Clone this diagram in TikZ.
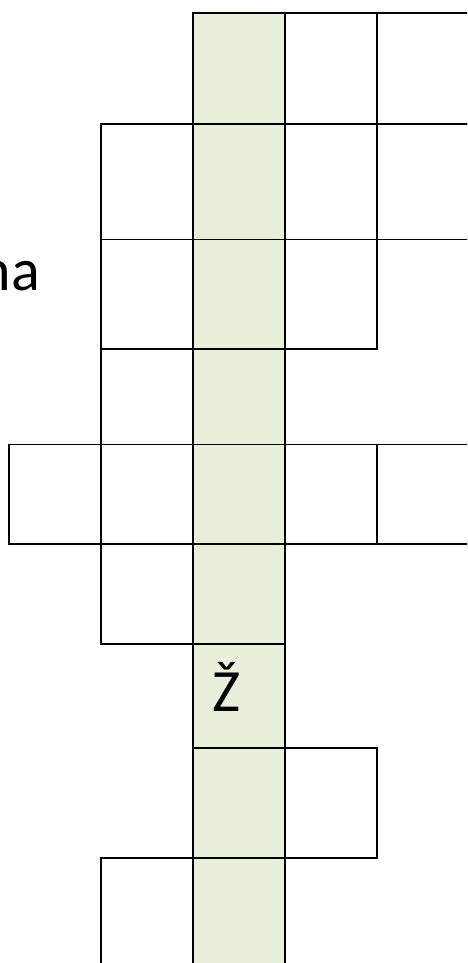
\documentclass[tikz,border=0pt]{standalone}
\usepackage{fontspec}
\setmainfont{Carlito}
\definecolor{tajgreen}{HTML}{E8F0DC}
\tikzset{
  cell/.style={draw=black, line width=1.9pt, rectangle, inner sep=0pt, outer sep=0pt, anchor=north west, minimum width=92pt},
  gcell/.style={cell, fill=tajgreen},
  bigtxt/.style={font=\fontsize{60}{72}\selectfont, inner sep=0pt, outer sep=0pt}
}
\begin{document}
\begin{tikzpicture}[x=1pt,y=1pt]
\useasboundingbox (0,0) rectangle (467,-963);
\clip (0,0) rectangle (467,-963);
% row 1
\node[gcell, minimum height=111pt] (g1) at (193,-13) {};
\node[cell, minimum height=111pt] (r1a) at (285,-13) {};
\node[cell, minimum height=111pt] (r1b) at (377,-13) {};
% row 2
\node[cell, minimum height=115.5pt] (l2) at (101,-124) {};
\node[gcell, minimum height=115.5pt] (g2) at (193,-124) {};
\node[cell, minimum height=115.5pt] (r2a) at (285,-124) {};
\node[cell, minimum height=115.5pt] (r2b) at (377,-124) {};
% row 3
\node[cell, minimum height=109.5pt] (l3) at (101,-239.5) {};
\node[gcell, minimum height=109.5pt] (g3) at (193,-239.5) {};
\node[cell, minimum height=109.5pt] (r3a) at (285,-239.5) {};
% row 4
\node[cell, minimum height=95.5pt] (l4) at (101,-349) {};
\node[gcell, minimum height=95.5pt] (g4) at (193,-349) {};
% row 5
\node[cell, minimum height=99.5pt] (l5b) at (9,-444.5) {};
\node[cell, minimum height=99.5pt] (l5a) at (101,-444.5) {};
\node[gcell, minimum height=99.5pt] (g5) at (193,-444.5) {};
\node[cell, minimum height=99.5pt] (r5a) at (285,-444.5) {};
\node[cell, minimum height=99.5pt] (r5b) at (377,-444.5) {};
% row 6
\node[cell, minimum height=100pt] (l6) at (101,-544) {};
\node[gcell, minimum height=100pt] (g6) at (193,-544) {};
% row 7
\node[gcell, minimum height=104pt] (g7) at (193,-644) {};
% row 8
\node[gcell, minimum height=110pt] (g8) at (193,-748) {};
\node[cell, minimum height=110pt] (r8a) at (285,-748) {};
% row 9
\node[cell, minimum height=112pt] (l9) at (101,-858) {};
\node[gcell, minimum height=112pt] (g9) at (193,-858) {};
% texts
\node[bigtxt, anchor=base west] (zh) at (212,-711) {Ž};
\node[bigtxt, anchor=base east] (na) at (40,-290) {na};
\end{tikzpicture}
\end{document}
